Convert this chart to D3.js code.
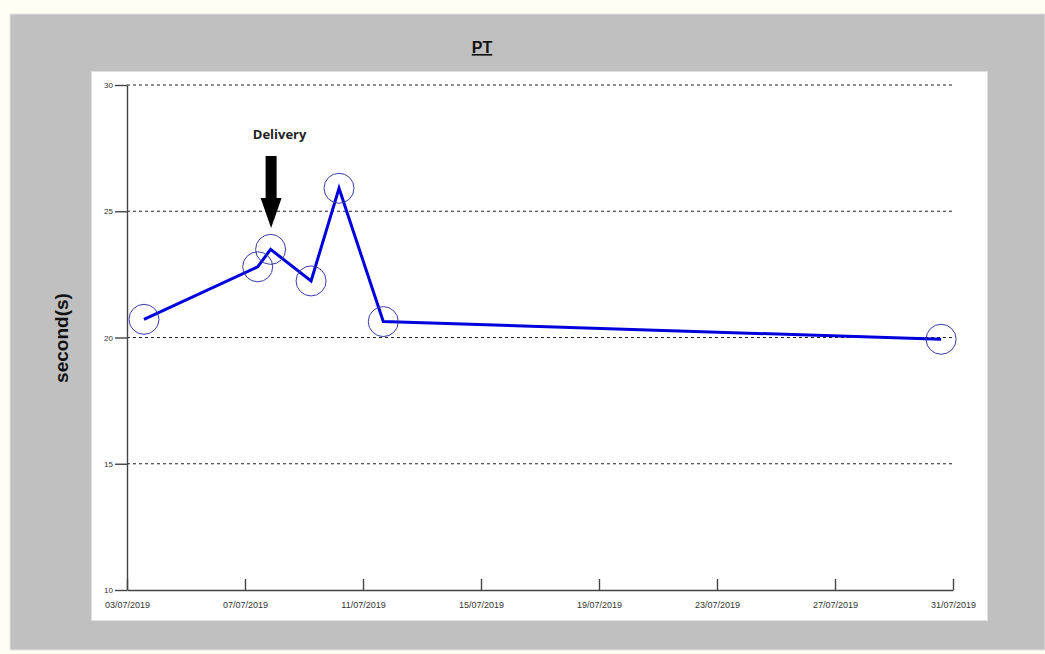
<!DOCTYPE html>
<html>
<head>
<meta charset="utf-8">
<script src="https://cdn.jsdelivr.net/npm/d3@7"></script>
<style>
  body { margin: 0; background: #fffef4; }
  svg { display: block; }
  .axis path, .axis line { stroke: #444; stroke-width: 1.4px; }
  .axis text { font-family: "Liberation Sans", Arial, sans-serif; font-size: 9px; fill: #333; }
</style>
</head>
<body>
<div id="chart"></div>
<script>
// data
var dates = ["2019-07-03 13:50", "2019-07-07 10:20", "2019-07-07 20:50", "2019-07-09 05:45",
             "2019-07-10 04:30", "2019-07-11 16:30", "2019-07-30 14:20"];
var values = [20.72, 22.8, 23.49, 22.24, 25.91, 20.63, 19.93];
var xTicks = ["2019-07-03", "2019-07-07", "2019-07-11", "2019-07-15", "2019-07-19", "2019-07-23", "2019-07-27", "2019-07-31"];
var yTicks = [10, 15, 20, 25, 30];
var gridValues = [15, 20, 25, 30];
var markerDate = "2019-07-07 20:50";
var markerLabel = "Delivery";

var W = 1045, H = 654;
var parseT = d3.utcParse("%Y-%m-%d %H:%M");
var parseD = d3.utcParse("%Y-%m-%d");

var data = dates.map(function(d, i) { return {date: parseT(d), value: values[i]}; });

var x = d3.scaleUtc().domain([parseD(xTicks[0]), parseD(xTicks[xTicks.length - 1])]).range([127, 953]);
var y = d3.scaleLinear().domain([10, 30]).range([590, 85]);

var svg = d3.select("#chart").append("svg").attr("width", W).attr("height", H);

// gray panel + white plot area
svg.append("rect").attr("x", 10).attr("y", 14).attr("width", W - 10).attr("height", 636)
  .attr("fill", "#c0c0c0").attr("stroke", "#e6e6e6").attr("stroke-width", 1);
svg.append("rect").attr("x", 91.5).attr("y", 71.5).attr("width", 896).attr("height", 549)
  .attr("fill", "#fff").attr("stroke", "#e0e0e0").attr("stroke-width", 1);

// title
svg.append("text").attr("x", 482).attr("y", 53).attr("text-anchor", "middle")
  .style("font-family", "Liberation Sans, Arial, sans-serif").style("font-size", "16px")
  .style("font-weight", "bold").style("text-decoration", "underline").attr("fill", "#111")
  .text("PT");

// y label
svg.append("text").attr("transform", "translate(68,338) rotate(-90)").attr("text-anchor", "middle")
  .style("font-family", "Liberation Sans, Arial, sans-serif").style("font-size", "19px")
  .style("font-weight", "bold").attr("fill", "#111").text("second(s)");

// grid
svg.selectAll(".grid").data(gridValues).enter().append("line")
  .attr("class", "grid")
  .attr("x1", x.range()[0]).attr("x2", 952)
  .attr("y1", function(d) { return y(d); }).attr("y2", function(d) { return y(d); })
  .attr("stroke", "#222").attr("stroke-width", 1.2).attr("stroke-dasharray", "3,3");

// axes
var xAxis = d3.axisBottom(x).tickValues(xTicks.map(parseD))
  .tickFormat(d3.utcFormat("%d/%m/%Y")).tickSizeInner(-11).tickSizeOuter(0).tickPadding(12);
var yAxis = d3.axisLeft(y).tickValues(yTicks).tickSizeInner(12).tickSizeOuter(0).tickPadding(2);

svg.append("g").attr("class", "x axis").attr("transform", "translate(0," + y(10) + ")").call(xAxis);
svg.append("g").attr("class", "y axis").attr("transform", "translate(" + x.range()[0] + ",0)").call(yAxis);
svg.selectAll(".y.axis text").style("font-size", "8px");

// line
var line = d3.line().x(function(d) { return x(d.date); }).y(function(d) { return y(d.value); });
svg.append("path").datum(data).attr("d", line)
  .attr("fill", "none").attr("stroke", "#0000dd").attr("stroke-width", 3).attr("stroke-linejoin", "miter");

svg.selectAll(".dot").data(data).enter().append("circle")
  .attr("class", "dot")
  .attr("cx", function(d) { return x(d.date); })
  .attr("cy", function(d) { return y(d.value); })
  .attr("r", 15).attr("fill", "none").attr("stroke", "#3a3aaa").attr("stroke-width", 1);

// delivery arrow
var mx = x(parseT(markerDate));
var arrow = svg.append("g").attr("transform", "translate(" + mx + ",0)");
arrow.append("rect").attr("x", -5).attr("y", 156).attr("width", 11).attr("height", 46).attr("fill", "#000");
arrow.append("path").attr("d", "M-10,198 L11,198 L0.5,228 Z").attr("fill", "#000");
svg.append("text").attr("x", mx + 9).attr("y", 139).attr("text-anchor", "middle")
  .style("font-family", "Open Sans, Liberation Sans, sans-serif").style("font-size", "13px")
  .style("font-weight", "bold").attr("fill", "#222").text(markerLabel);
</script>
</body>
</html>
